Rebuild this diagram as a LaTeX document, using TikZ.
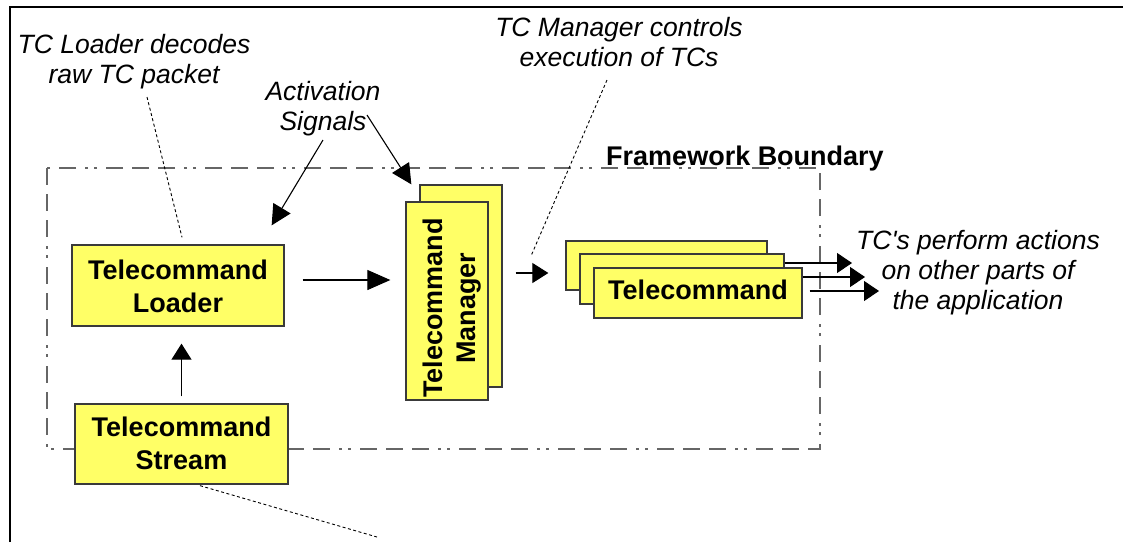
\documentclass[tikz,border=0pt]{standalone}
\usepackage{fontspec}
\setmainfont{Liberation Sans}
\usetikzlibrary{arrows.meta}
\definecolor{boxfill}{HTML}{FFFF66}
\definecolor{boxline}{HTML}{3A3A3A}

\begin{document}
\begin{tikzpicture}[x=1pt,y=-1pt,
  box/.style={draw=boxline, fill=boxfill, line width=1.3pt, inner sep=0pt,
    font=\fontsize{27}{33}\selectfont\bfseries, align=center},
  boxtext/.style={font=\fontsize{27}{33}\selectfont\bfseries, align=center, inner sep=0pt},
  note/.style={font=\fontsize{26.5}{30}\selectfont\itshape, align=center, inner sep=0pt},
  flow/.style={line width=1.1pt, -{Triangle[length=#1,width=20pt]}},
  flow/.default={16pt},
  leader/.style={line width=0.9pt, dash pattern=on 3pt off 2.5pt},
  boundary/.style={line width=1.2pt, black!60,
    dash pattern=on 17pt off 9pt on 17pt off 9pt on 17pt off 9pt on 3pt off 6pt on 3pt off 9pt}
]
\useasboundingbox (0,0) rectangle (1123,542);

% outer frame (left and top edges)
\draw[line width=2pt] (9.7,542) -- (9.7,7.3) -- (1123,7.3);

% framework boundary
\draw[boundary] (47,168) rectangle (820,449);
\node[boxtext] (fwb) at (745,158.4) {\strut Framework Boundary};

% components
\node[box, minimum width=212pt, minimum height=81pt] (loader) at (178,285.5)
  {\rule{0pt}{31pt}Telecommand\\\strut Loader};
\node[box, minimum width=213pt, minimum height=80pt] (stream) at (181.5,444)
  {\rule{0pt}{27pt}Telecommand\\\strut Stream};

\node[box, minimum width=82pt, minimum height=202pt] (mgrback) at (461,286) {};
\node[box, minimum width=82pt, minimum height=198pt] (mgr) at (447,301) {};
\node[boxtext, rotate=90] (mgrlabel) at (452,308) {\strut Telecommand\\\strut Manager};

\node[box, minimum width=201pt, minimum height=49pt] (tc1) at (666.5,265.5) {};
\node[box, minimum width=204pt, minimum height=50pt] (tc2) at (682,279) {};
\node[box, minimum width=208pt, minimum height=50pt] (tc3) at (698,293) {\strut Telecommand};

% data flow
\draw[flow={16pt}, shorten <=7pt, shorten >=17pt] (stream.north) -- (stream.north |- loader.south);
\draw[flow={23pt}] ([shift={(18,-5.5)}]loader.east) -- ([shift={(-15,-21)}]mgr.west);
\draw[flow={16pt}] ([shift={(13,-13)}]mgrback.east) -- ([shift={(-17,7.5)}]tc1.west);

% actions on the rest of the application
\coordinate (out1) at (852,263);
\coordinate (out2) at (865,277);
\coordinate (out3) at (879,291);
\draw[flow={15pt}] ([shift={(0,-16)}]tc2.east) -- (out1);
\draw[flow={15pt}] ([shift={(0,-16)}]tc3.east) -- (out2);
\draw[flow={15pt}] ([shift={(7,-2)}]tc3.east) -- (out3);

% annotations
\node[note] (tcload) at (134,62) {\strut TC Loader decodes\\\strut raw TC packet};
\node[note] (actsig) at (323,109) {\strut Activation\\\strut Signals};
\node[note] (tcmgr) at (619,45) {\strut TC Manager controls\\\strut execution of TCs};
\node[note] (tcperf) at (978,273) {\strut TC\textquotesingle s perform actions\\\strut on other parts of\\\strut the application};

% activation signals
\coordinate (act1) at (323,140);
\coordinate (act2) at (367,115);
\draw[flow={20pt}] (act1) -- ([shift={(-13,-19)}]loader.north east);
\draw[flow={20pt}] (act2) -- ([shift={(-8,0)}]mgrback.north west);

% leader lines
\coordinate (ldr1) at (147,97);
\draw[leader] (ldr1) -- ([shift={(4,-7)}]loader.north);
\coordinate (ldr2) at (607,80);
\coordinate (ldr2e) at (531,256);
\draw[leader] (ldr2) -- (ldr2e);
\coordinate (ldr3) at (377,537);
\draw[leader] ([shift={(18.5,1)}]stream.south) -- (ldr3);
\end{tikzpicture}
\end{document}
